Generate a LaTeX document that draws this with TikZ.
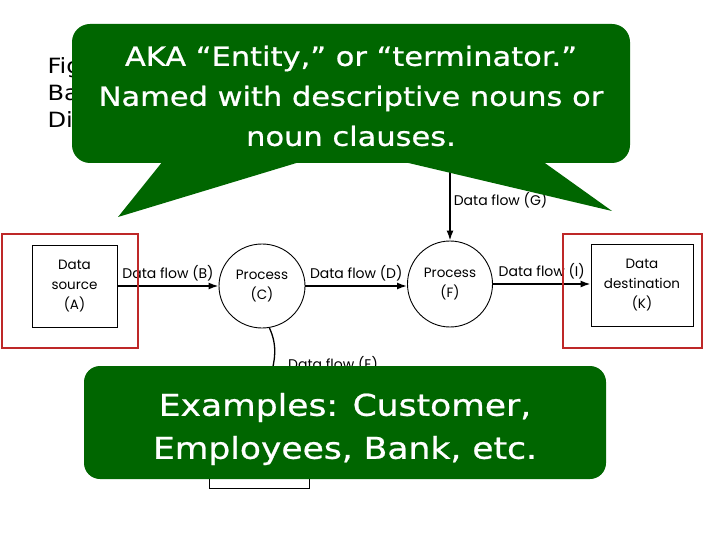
\documentclass[tikz,border=0pt]{standalone}
\usepackage{fontspec}
\newfontfamily\dfdfont{Poppins}
\newfontfamily\callfont{DejaVu Sans}[FakeStretch=1.15]
\newfontfamily\notefont{DejaVu Sans}[FakeStretch=1.15, FakeBold=0.8]
\usetikzlibrary{shapes.geometric,arrows.meta,positioning}
\definecolor{calloutgreen}{RGB}{0,102,0}
\definecolor{framered}{RGB}{190,40,40}

\begin{document}
\begin{tikzpicture}[x=1pt, y=-1pt,
  entity/.style={draw, line width=0.9pt, inner sep=0pt, align=center, font=\dfdfont\fontsize{13.5}{20}\selectfont},
  process/.style={draw, ellipse, line width=0.9pt, inner sep=0pt, align=center, font=\dfdfont\fontsize{13.5}{20}\selectfont},
  flow/.style={-{Latex[length=10pt, width=7pt]}, line width=1.6pt},
  flowlabel/.style={font=\dfdfont\fontsize{14}{16}\selectfont, inner sep=1pt},
  redframe/.style={draw=framered, line width=2pt},
  callout/.style={fill=calloutgreen},
  callouttext/.style={text=white, align=center, inner sep=0pt}]
  \useasboundingbox (0,0) rectangle (720,540);
  % caption behind the callout
  \node[anchor=base west, font=\callfont\fontsize{21}{27}\selectfont, align=left] (caption) at (44,128) {Fig\\Ba\\Dia};
  % data flow diagram
  \node[entity, minimum width=85pt, minimum height=82pt] (srcA) at (74.5,286) {Data\\source\\(A)};
  \node[process, minimum width=86pt, minimum height=84pt] (procC) at (262,286) {Process\\(C)};
  \node[process, minimum width=85pt, minimum height=86pt] (procF) at (450,284) {Process\\(F)};
  \node[entity, minimum width=102pt, minimum height=82pt] (dstK) at (642,285) {Data\\destination\\(K)};
  \node[draw, line width=0.9pt, minimum width=100pt, minimum height=60pt] (store) at (259,458) {};
  \coordinate (gIn) at (450,150);
  \draw[flow] (srcA.east) -- (procC.west) node[flowlabel, midway, above=3pt] {Data flow (B)};
  \draw[flow] (procC.east) -- (procC.east -| procF.west) node[flowlabel, midway, above=3pt] {Data flow (D)};
  \draw[flow] (procF.east) -- (procF.east -| dstK.west) node[flowlabel, midway, above=3pt] {Data flow (I)};
  \draw[flow] (gIn) -- (procF.north) node[flowlabel, pos=0.56, right=2pt] {Data flow (G)};
  \draw[line width=1.3pt] (procC.-80) to[out=-65, in=90] (store.north);
  \node[flowlabel, anchor=west] (lblE) at (287,364) {Data flow (E)};
  % red frames round the entities
  \node[redframe, minimum width=136pt, minimum height=114pt] (frameA) at (70,291) {};
  \node[redframe, minimum width=139pt, minimum height=114pt] (frameK) at (632.5,291) {};
  % top callout
  \fill[callout, rounded corners=18pt] (72,24) rectangle (630,163);
  \fill[callout] (163,161) -- (118,217) -- (303,161) -- cycle;
  \fill[callout] (400,161) -- (612,211) -- (542,161) -- cycle;
  \node[callouttext, font=\notefont\fontsize{26.5}{40}\selectfont] (topNote) at (351,96)
    {AKA “Entity,” or “terminator.”\\Named with descriptive nouns or\\noun clauses.};
  % bottom callout
  \fill[callout, rounded corners=16pt] (84,366) rectangle (606,479);
  \node[callouttext, font=\notefont\fontsize{30}{43}\selectfont] (bottomNote) at (345,429)
    {Examples: Customer,\\Employees, Bank, etc.};
\end{tikzpicture}
\end{document}
